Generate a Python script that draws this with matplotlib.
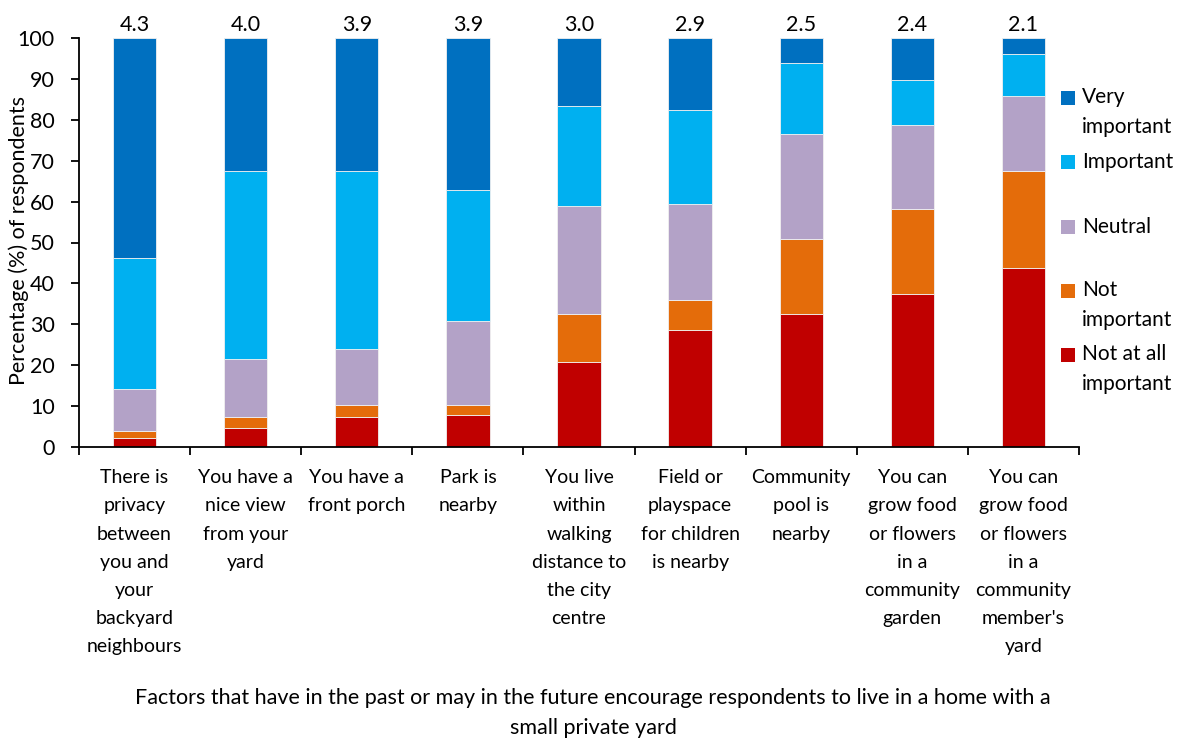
import matplotlib
matplotlib.use("Agg")
import matplotlib.pyplot as plt
from matplotlib.patches import Rectangle
import numpy as np

plt.rcParams['font.family'] = ['Lato', 'DejaVu Sans']

categories = [
    "There is\nprivacy\nbetween\nyou and\nyour\nbackyard\nneighbours",
    "You have a\nnice view\nfrom your\nyard",
    "You have a\nfront porch",
    "Park is\nnearby",
    "You live\nwithin\nwalking\ndistance to\nthe city\ncentre",
    "Field or\nplayspace\nfor children\nis nearby",
    "Community\npool is\nnearby",
    "You can\ngrow food\nor flowers\nin a\ncommunity\ngarden",
    "You can\ngrow food\nor flowers\nin a\ncommunity\nmember's\nyard",
]
mean_scores = ["4.3", "4.0", "3.9", "3.9", "3.0", "2.9", "2.5", "2.4", "2.1"]

series_names = ["Not at all\nimportant", "Not\nimportant", "Neutral", "Important", "Very\nimportant"]
series_colors = ["#C00000", "#E46C0A", "#B3A2C7", "#00B0F0", "#0070C0"]

not_at_all = [2.3, 4.7, 7.3, 7.8, 20.7, 28.7, 32.6, 37.3, 43.7]
not_important = [1.5, 2.6, 3.0, 2.5, 11.9, 7.2, 18.3, 20.8, 23.8]
neutral = [10.3, 14.2, 13.7, 20.5, 26.4, 23.6, 25.7, 20.6, 18.4]
important = [32.1, 46.0, 43.5, 32.1, 24.4, 23.0, 17.4, 11.1, 10.3]
very_important = [53.8, 32.5, 32.5, 37.1, 16.6, 17.5, 6.0, 10.2, 3.8]
series_values = [not_at_all, not_important, neutral, important, very_important]

yticks = [0, 10, 20, 30, 40, 50, 60, 70, 80, 90, 100]
ylabel = "Percentage (%) of respondents"
xlabel = ("Factors that have in the past or may in the future encourage respondents to live in a home with a\n"
          "small private yard")

W, H = 1185, 739
fig = plt.figure(figsize=(W / 100, H / 100), dpi=100)
ax = fig.add_axes([79 / W, 1 - 447 / H, 1000 / W, 409 / H])

x = np.arange(len(categories))
bottom = np.zeros(len(categories))
for vals, col in zip(series_values, series_colors):
    v = np.array(vals)
    ax.bar(x, v, bottom=bottom, width=0.39, color=col, edgecolor="#f0f0f0", linewidth=0.6)
    bottom += v

for xi, s in enumerate(mean_scores):
    ax.text(xi, 100 + 0.8, s, ha="center", va="bottom", fontsize=15.5, color="black")

ax.set_xlim(-0.5, len(categories) - 0.5)
ax.set_ylim(0, 100)
ax.set_yticks(yticks)
ax.set_yticklabels([str(t) for t in yticks], fontsize=15.5)
ax.set_xticks(x)
ax.set_xticklabels(categories, fontsize=14, linespacing=1.8, va="top")
ax.set_xticks(np.arange(-0.5, len(categories)), minor=True)
ax.tick_params(axis="x", which="major", length=0, pad=16)
ax.tick_params(axis="x", which="minor", length=6, width=1.3, direction="out")
ax.tick_params(axis="y", length=6, width=1.3, direction="out", pad=11.5)
for sp in ["top", "right"]:
    ax.spines[sp].set_visible(False)
for sp in ["left", "bottom"]:
    ax.spines[sp].set_linewidth(1.3)
ax.set_ylabel(ylabel, fontsize=15.5)
ax.yaxis.set_label_coords((29 - 79) / 1000, 0.505)

fig.text(593 / W, 1 - 713 / H, xlabel, ha="center", va="center", fontsize=15.5, linespacing=1.62)

# legend (manual, Excel-like layout: square aligned with first text line)
legend_first_line_y = [355, 291, 227, 162, 98]
line_px = 28.5
for name, col, yy in zip(series_names, series_colors, legend_first_line_y):
    fig.patches.append(Rectangle((1061 / W, 1 - (yy + 7) / H), 14 / W, 14 / H,
                                 transform=fig.transFigure, facecolor=col, edgecolor="none"))
    nlines = name.count("\n") + 1
    yc = yy + (nlines - 1) * line_px / 2
    fig.text(1082 / W, 1 - yc / H, name, ha="left", va="center", fontsize=15, linespacing=1.65)

fig.savefig("out.png", dpi=100)
